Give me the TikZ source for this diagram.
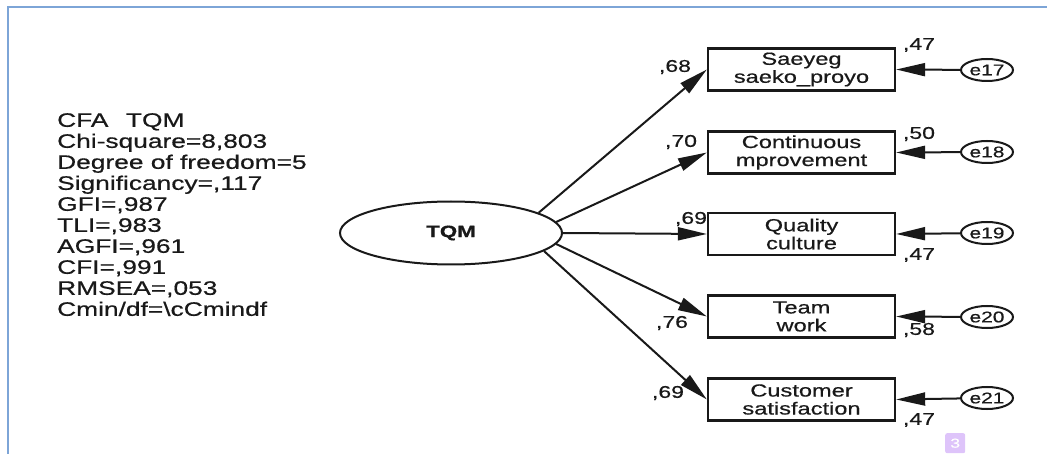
\documentclass[tikz,border=0pt]{standalone}
\usepackage{fontspec}
\setmainfont[FakeStretch=1.35,FakeBold=0.6]{Liberation Sans}
\usetikzlibrary{shapes.geometric,arrows.meta}
\definecolor{framecol}{RGB}{125,165,215}
\definecolor{badgecol}{RGB}{222,196,250}
\definecolor{inkcol}{RGB}{25,25,25}
\tikzset{
  obsbox/.style={draw,line width=2.3pt,minimum width=187pt,minimum height=42pt,inner sep=0pt,align=center,font=\fontsize{17.5}{18}\selectfont},
  errell/.style={draw,ellipse,line width=2pt,minimum width=52pt,minimum height=22pt,inner sep=0pt,font=\fontsize{15.5}{16}\selectfont},
  path/.style={line width=2pt,-{Triangle[length=29pt,width=13pt]}},
  coef/.style={font=\fontsize{17}{17}\selectfont,inner sep=0pt}
}
\begin{document}
\begin{tikzpicture}[x=1pt,y=-1pt,color=inkcol]
\useasboundingbox (0,0) rectangle (1047,454);
% frame
\draw[framecol,line width=2pt] (1047,7) -- (8,7) -- (8,454);
% fit statistics
\node[anchor=north west,align=left,inner sep=0pt,font=\fontsize{19.5}{21}\selectfont] (stats) at (57,113)
  {CFA\hspace{0.9em}TQM\\Chi-square=8,803\\Degree of freedom=5\\Significancy=,117\\GFI=,987\\TLI=,983\\AGFI=,961\\CFI=,991\\RMSEA=,053\\Cmin/df=\textbackslash cCmindf};
% latent
\node[draw,ellipse,line width=2pt,minimum width=222pt,minimum height=63pt,inner sep=0pt,font=\bfseries\fontsize{16.5}{18}\selectfont] (tqm) at (451,233) {TQM};
% observed
\node[obsbox] (b1) at (801.5,69.5) {Saeyeg\\saeko\_proyo};
\node[obsbox] (b2) at (801.5,152.5) {Continuous\\mprovement};
\node[obsbox] (b3) at (801.5,234) {Quality\\culture};
\node[obsbox] (b4) at (801.5,316.5) {Team\\work};
\node[obsbox] (b5) at (801.5,399.5) {Customer\\satisfaction};
% errors
\node[errell] (e17) at (987,70) {e17};
\node[errell] (e18) at (987,152) {e18};
\node[errell] (e19) at (987,233) {e19};
\node[errell] (e20) at (987,317) {e20};
\node[errell] (e21) at (987,398) {e21};
% paths
\draw[path] (tqm.13) -- (b1.west);
\draw[path] (tqm.6) -- (b2.west);
\draw[path] (tqm.east) -- (b3.west);
\draw[path] (tqm.-6) -- (b4.west);
\draw[path] (tqm.-11) -- (b5.west);
\draw[path] (e17) -- (b1.east);
\draw[path] (e18) -- (b2.east);
\draw[path] (e19) -- (b3.east);
\draw[path] (e20) -- (b4.east);
\draw[path] (e21) -- (b5.east);
% coefficients
\node[coef] (l1) at (675,67) {,68};
\node[coef] (l2) at (681,142) {,70};
\node[coef] (l3) at (691,219) {,69};
\node[coef] (l4) at (672,323) {,76};
\node[coef] (l5) at (668,393) {,69};
\node[coef] (r1) at (919,45) {,47};
\node[coef] (r2) at (919,134) {,50};
\node[coef] (r3) at (919,255) {,47};
\node[coef] (r4) at (919,330) {,58};
\node[coef] (r5) at (919,420) {,47};
% page badge
\node[fill=badgecol,rounded corners=2pt,minimum width=20pt,minimum height=20pt,inner sep=0pt,text=white,font=\fontsize{13}{15}\selectfont,anchor=north west] (badge) at (945,433) {3};
\end{tikzpicture}
\end{document}
